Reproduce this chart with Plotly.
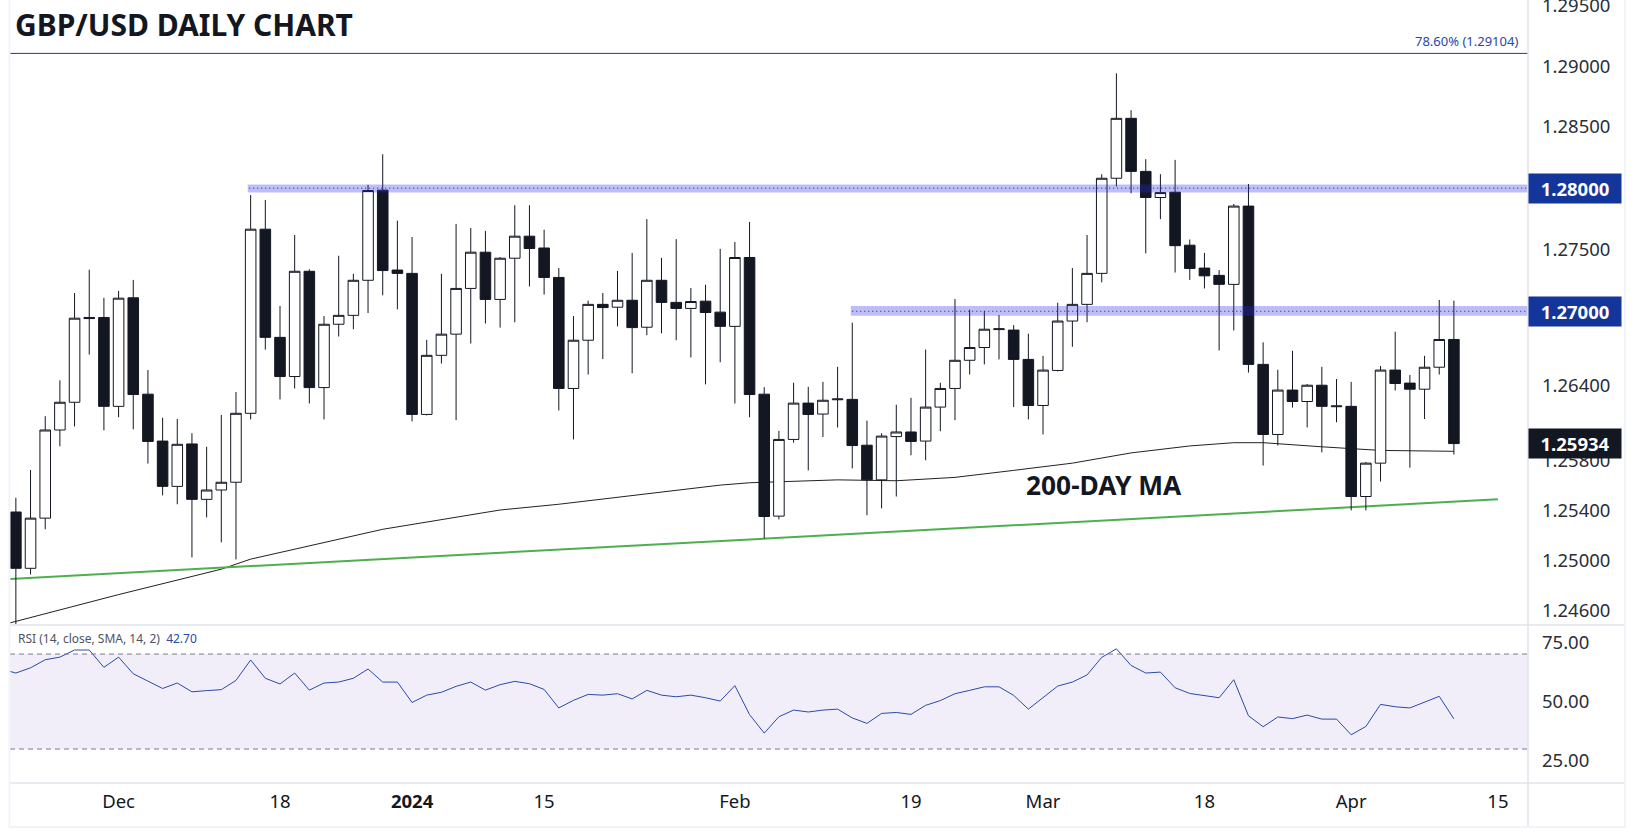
import numpy as np
import pandas as pd
import plotly.graph_objects as go
from plotly.subplots import make_subplots

# GBP/USD daily, 22 Nov 2023 - 10 Apr 2024
opens = [1.25386, 1.24937, 1.25337, 1.26043, 1.26266, 1.26950, 1.26950, 1.26233, 1.27109, 1.26331,
         1.25954, 1.25591, 1.25931, 1.25487, 1.25562, 1.25624, 1.26177, 1.27666, 1.26789, 1.26473,
         1.27324, 1.26384, 1.26895, 1.26967, 1.27251, 1.27984, 1.27334, 1.27307, 1.26168, 1.26644,
         1.26815, 1.27185, 1.27479, 1.27096, 1.27430, 1.27609, 1.27513, 1.27274, 1.26377, 1.26766,
         1.27056, 1.27033, 1.27089, 1.26871, 1.27251, 1.27072, 1.27023, 1.27082, 1.26993, 1.26878,
         1.27436, 1.26331, 1.25353, 1.25967, 1.26259, 1.26171, 1.26286, 1.26289, 1.25921, 1.25643,
         1.25990, 1.26027, 1.25954, 1.26227, 1.26377, 1.26604, 1.26707, 1.26852, 1.26848, 1.26611,
         1.26240, 1.26522, 1.26921, 1.27056, 1.27307, 1.28081, 1.28571, 1.28137, 1.27924, 1.27967,
         1.27536, 1.27350, 1.27291, 1.27218, 1.27854, 1.26571, 1.26007, 1.26364, 1.26272, 1.26403,
         1.26230, 1.26233, 1.25510, 1.25777, 1.26525, 1.26420, 1.26371, 1.26548, 1.26772]
highs = [1.25500, 1.25722, 1.26154, 1.26443, 1.27148, 1.27337, 1.27109, 1.27165, 1.27254, 1.26525,
         1.26141, 1.26131, 1.26017, 1.25908, 1.26164, 1.26348, 1.27944, 1.27904, 1.27043, 1.27619,
         1.27340, 1.26961, 1.27450, 1.27304, 1.28027, 1.28277, 1.27735, 1.27602, 1.26769, 1.27304,
         1.27709, 1.27675, 1.27652, 1.27440, 1.27861, 1.27861, 1.27662, 1.27350, 1.26961, 1.27086,
         1.27148, 1.27327, 1.27473, 1.27748, 1.27433, 1.27585, 1.27188, 1.27215, 1.27506, 1.27562,
         1.27725, 1.26387, 1.26036, 1.26423, 1.26390, 1.26430, 1.26551, 1.26908, 1.26118, 1.26017,
         1.26246, 1.26302, 1.26690, 1.26423, 1.27099, 1.27013, 1.27003, 1.26970, 1.26888, 1.26819,
         1.26640, 1.27069, 1.27350, 1.27619, 1.28114, 1.28940, 1.28638, 1.28237, 1.28114, 1.28231,
         1.27582, 1.27473, 1.27334, 1.27871, 1.28034, 1.26749, 1.26528, 1.26680, 1.26413, 1.26551,
         1.26453, 1.26430, 1.25787, 1.26558, 1.26835, 1.26486, 1.26640, 1.27092, 1.27086]
lows = [1.24493, 1.24888, 1.25248, 1.25912, 1.26072, 1.26650, 1.26040, 1.26145, 1.26049, 1.25774,
        1.25519, 1.25448, 1.25024, 1.25343, 1.25144, 1.25008, 1.26128, 1.26690, 1.26289, 1.26377,
        1.26256, 1.26128, 1.26796, 1.26855, 1.26986, 1.27129, 1.27016, 1.26112, 1.26160, 1.26578,
        1.26122, 1.26739, 1.26901, 1.26868, 1.26911, 1.27201, 1.27135, 1.26200, 1.25967, 1.26489,
        1.26614, 1.26878, 1.26499, 1.26806, 1.26822, 1.26766, 1.26627, 1.26410, 1.26588, 1.26256,
        1.26145, 1.25174, 1.25327, 1.25941, 1.25719, 1.25987, 1.26063, 1.25735, 1.25360, 1.25415,
        1.25510, 1.25840, 1.25800, 1.26033, 1.26122, 1.26489, 1.26571, 1.26611, 1.26227, 1.26128,
        1.26007, 1.26515, 1.26713, 1.26911, 1.27234, 1.28014, 1.27958, 1.27469, 1.27748, 1.27314,
        1.27254, 1.27185, 1.26683, 1.26845, 1.26505, 1.25758, 1.25918, 1.26223, 1.26063, 1.25863,
        1.26105, 1.25399, 1.25399, 1.25630, 1.26361, 1.25741, 1.26131, 1.26489, 1.25846]
closes = [1.24937, 1.25337, 1.26043, 1.26266, 1.26944, 1.26941, 1.26233, 1.27106, 1.26328, 1.25951,
          1.25591, 1.25928, 1.25487, 1.25562, 1.25624, 1.26177, 1.27666, 1.26789, 1.26473, 1.27324,
          1.26384, 1.26895, 1.26967, 1.27251, 1.27981, 1.27330, 1.27307, 1.26168, 1.26644, 1.26815,
          1.27185, 1.27479, 1.27096, 1.27430, 1.27609, 1.27509, 1.27274, 1.26377, 1.26766, 1.27056,
          1.27030, 1.27089, 1.26868, 1.27251, 1.27072, 1.27023, 1.27079, 1.26990, 1.26878, 1.27436,
          1.26328, 1.25350, 1.25967, 1.26259, 1.26168, 1.26282, 1.26292, 1.25918, 1.25643, 1.25994,
          1.26027, 1.25951, 1.26227, 1.26377, 1.26604, 1.26707, 1.26855, 1.26858, 1.26611, 1.26240,
          1.26525, 1.26921, 1.27056, 1.27307, 1.28081, 1.28571, 1.28137, 1.27924, 1.27964, 1.27532,
          1.27347, 1.27287, 1.27218, 1.27854, 1.26571, 1.26007, 1.26364, 1.26272, 1.26403, 1.26233,
          1.26236, 1.25510, 1.25777, 1.26525, 1.26417, 1.26371, 1.26548, 1.26772, 1.25934]

# 200-day MA, read at the bars where its slope changes
ma_bars = [-1, 7, 14, 16, 25, 33, 37, 43, 48, 50, 56, 60, 64, 68, 72, 76, 80, 83, 85, 89, 91, 93, 98]
ma_vals = [1.24485, 1.24728, 1.24930, 1.25010, 1.25248, 1.25402, 1.25448, 1.25532, 1.25601, 1.25620,
           1.25643, 1.25636, 1.25663, 1.25719, 1.25777, 1.25859, 1.25915, 1.25941, 1.25941, 1.25908,
           1.25892, 1.25879, 1.25872]

# rsi starts one bar left of the first candle (clipped by the axis)
rsi_vals = [63.7, 62.0, 64.2, 67.6, 68.7, 71.7, 71.7, 64.4, 68.7, 61.7, 58.6, 55.5, 57.8, 54.1, 54.6, 55.0,
            58.9, 67.5, 59.8, 57.4, 62.0, 54.8, 57.8, 58.2, 59.8, 63.7, 58.2, 58.2, 49.6, 52.7, 53.9,
            56.4, 58.2, 54.8, 57.1, 58.5, 57.5, 55.1, 47.3, 50.5, 53.0, 52.7, 53.3, 51.1, 54.7, 52.7,
            52.0, 52.7, 51.6, 50.2, 56.7, 44.5, 36.7, 43.6, 46.4, 45.6, 46.4, 46.8, 43.1, 40.8, 45.0,
            45.4, 44.6, 48.4, 50.4, 53.3, 54.7, 56.2, 56.2, 52.6, 46.8, 51.5, 56.5, 58.2, 61.2, 68.6,
            72.2, 65.2, 62.0, 62.4, 55.8, 53.4, 52.6, 51.6, 59.2, 44.0, 39.4, 43.5, 42.8, 44.3, 42.6,
            42.6, 36.0, 39.5, 48.8, 47.8, 47.3, 49.8, 52.2, 42.70]

trend_bars = [-0.4, 101]
trend_vals = [1.24852, 1.25487]

zone_levels = [1.28000, 1.27000]
zone_lows = [1.27964, 1.26964]
zone_highs = [1.28031, 1.27042]
zone_starts = [15.8, 56.9]
fib_level = 1.29104
last_close = 1.25934

price_ticks = [1.295, 1.29, 1.285, 1.275, 1.264, 1.258, 1.254, 1.25, 1.246]
rsi_ticks = [75, 50, 25]

# trading calendar, no bars on 25 Dec and 1 Jan
calendar = pd.bdate_range("2023-11-22", "2024-04-19").drop(pd.to_datetime(["2023-12-25", "2024-01-01"]))
bars = list(range(len(closes)))
tick_dates = ["2023-12-01", "2023-12-18", "2024-01-02", "2024-01-15", "2024-02-01",
              "2024-02-19", "2024-03-01", "2024-03-18", "2024-04-01", "2024-04-15"]
tick_labels = ["Dec", "18", "<b>2024</b>", "15", "Feb", "19", "Mar", "18", "Apr", "15"]
tick_bars = [calendar.get_loc(pd.Timestamp(d)) for d in tick_dates]

DARK = "#131722"
BLUE = "#1a3a9c"
FONT = "Noto Sans"
x_range = [-0.4, 103.05]
price_range = [np.log10(1.24486), np.log10(1.29544)]

fig = make_subplots(rows=2, cols=1, shared_xaxes=True, vertical_spacing=0)

fig.add_trace(go.Scatter(x=ma_bars, y=ma_vals, mode="lines", line=dict(color="#222222", width=1)), row=1, col=1)
fig.add_trace(go.Scatter(x=trend_bars, y=trend_vals, mode="lines", line=dict(color="#4caf50", width=2)), row=1, col=1)
fig.add_trace(go.Scatter(x=list(range(-1, len(closes))), y=rsi_vals, mode="lines",
                         line=dict(color="#2a4aa8", width=1)), row=2, col=1)
# candles on an overlaying axis so they sit on top of the MA line
fig.add_trace(go.Candlestick(
    x=bars, open=opens, high=highs, low=lows, close=closes, xaxis="x", yaxis="y3",
    increasing=dict(line=dict(color=DARK, width=1), fillcolor="#ffffff"),
    decreasing=dict(line=dict(color=DARK, width=1), fillcolor=DARK),
))

# support / resistance zones
for level, lo, hi, start in zip(zone_levels, zone_lows, zone_highs, zone_starts):
    fig.add_shape(type="rect", xref="x", yref="y", x0=start, x1=x_range[1], y0=lo, y1=hi,
                  fillcolor="rgba(40,40,230,0.3)", line_width=0, layer="above")
    fig.add_shape(type="line", xref="x", yref="y", x0=start + 0.1, x1=x_range[1], y0=level, y1=level,
                  line=dict(color="#1a237e", width=1, dash="1px,3px"), layer="above")
fig.add_shape(type="line", xref="x", yref="y", x0=x_range[0], x1=x_range[1], y0=fib_level, y1=fib_level,
              line=dict(color=BLUE, width=1))

# rsi band
fig.add_shape(type="rect", xref="x2", yref="y2", x0=x_range[0], x1=x_range[1], y0=30, y1=70,
              fillcolor="rgba(126,87,194,0.1)", line_width=0, layer="below")
for lvl in [70, 30]:
    fig.add_shape(type="line", xref="x2", yref="y2", x0=x_range[0], x1=x_range[1], y0=lvl, y1=lvl,
                  line=dict(color="#787b86", width=1, dash="5px,4px"))

# panel borders and outer frame, paper coords
border = "#e0e3eb"
strip = "#f0f3fa"
fig.add_shape(type="line", xref="paper", yref="paper", x0=0, x1=1.0632, y0=0.2017, y1=0.2017,
              line=dict(color=border, width=1.5))
fig.add_shape(type="line", xref="paper", yref="paper", x0=0, x1=1.0632, y0=0, y1=0,
              line=dict(color=border, width=1.5))
fig.add_shape(type="line", xref="paper", yref="paper", x0=1, x1=1, y0=-0.0549, y1=1,
              line=dict(color=border, width=1.5))
fig.add_shape(type="rect", xref="paper", yref="paper", x0=-0.001, x1=0.0003, y0=-0.0575, y1=1,
              fillcolor=strip, line_width=0)
fig.add_shape(type="rect", xref="paper", yref="paper", x0=1.0632, x1=1.0646, y0=-0.0575, y1=1,
              fillcolor=strip, line_width=0)
fig.add_shape(type="rect", xref="paper", yref="paper", x0=-0.001, x1=1.0646, y0=-0.0575, y1=-0.0549,
              fillcolor=strip, line_width=0)

fig.add_annotation(xref="paper", yref="y", x=0.0017, y=np.log10(1.29345), xanchor="left", showarrow=False,
                   text="<b>GBP/USD DAILY CHART</b>", font=dict(family=FONT, size=30, color=DARK))
fig.add_annotation(xref="x", yref="y", x=68.7, y=np.log10(1.25599), xanchor="left", showarrow=False,
                   text="<b>200-DAY MA</b>", font=dict(family=FONT, size=26.3, color=DARK))
fig.add_annotation(xref="paper", yref="y", x=0.9945, y=np.log10(1.2921), xanchor="right", showarrow=False,
                   text="78.60% (1.29104)", font=dict(family=FONT, size=13, color="#2a46a8"))
fig.add_annotation(xref="paper", yref="y2", x=0.0042, y=76.6, xanchor="left", showarrow=False,
                   text='RSI (14, close, SMA, 14, 2)  <span style="color:#2a46a8">42.70</span>',
                   font=dict(family=FONT, size=12, color="#50535e"))

# boxed price labels on the axis
for level, color in zip(zone_levels + [last_close], ["#14359a", "#14359a", DARK]):
    fig.add_annotation(xref="paper", yref="y", x=1, y=np.log10(level), xanchor="left", showarrow=False,
                       text=f"<b>{level:.5f}</b>", width=92, height=29, bgcolor=color, borderpad=0,
                       align="center", font=dict(family=FONT, size=18.5, color="#ffffff"))

fig.update_xaxes(range=x_range, showgrid=False, zeroline=False, showline=False, rangeslider_visible=False,
                 automargin=False, tickmode="array", tickvals=tick_bars, ticktext=tick_labels, ticks="",
                 ticklabelstandoff=5, tickfont=dict(family=FONT, size=18.5, color=DARK))
fig.update_yaxes(showgrid=False, zeroline=False, side="right", showline=False, ticks="", ticklabelstandoff=13,
                 automargin=False, ticklabeloverflow="allow", tickfont=dict(family=FONT, size=18.5, color="#2a2e39"))
fig.update_yaxes(row=1, col=1, type="log", domain=[0.2017, 1], range=price_range,
                 tickmode="array", tickvals=price_ticks, ticktext=[f"{t:.5f}" for t in price_ticks])
fig.update_yaxes(row=2, col=1, domain=[0, 0.2017], range=[15.7, 82.2],
                 tickmode="array", tickvals=rsi_ticks, ticktext=[f"{t:.2f}" for t in rsi_ticks])

fig.update_layout(width=1634, height=835, margin=dict(l=10, r=106, t=0, b=52), showlegend=False,
                  paper_bgcolor="#ffffff", plot_bgcolor="#ffffff", boxgap=0.28, boxgroupgap=0,
                  yaxis3=dict(overlaying="y", type="log", range=price_range, visible=False, side="right"))
fig.write_html("out.html", post_script="document.body.style.margin='0';", config=dict(displayModeBar=False))
